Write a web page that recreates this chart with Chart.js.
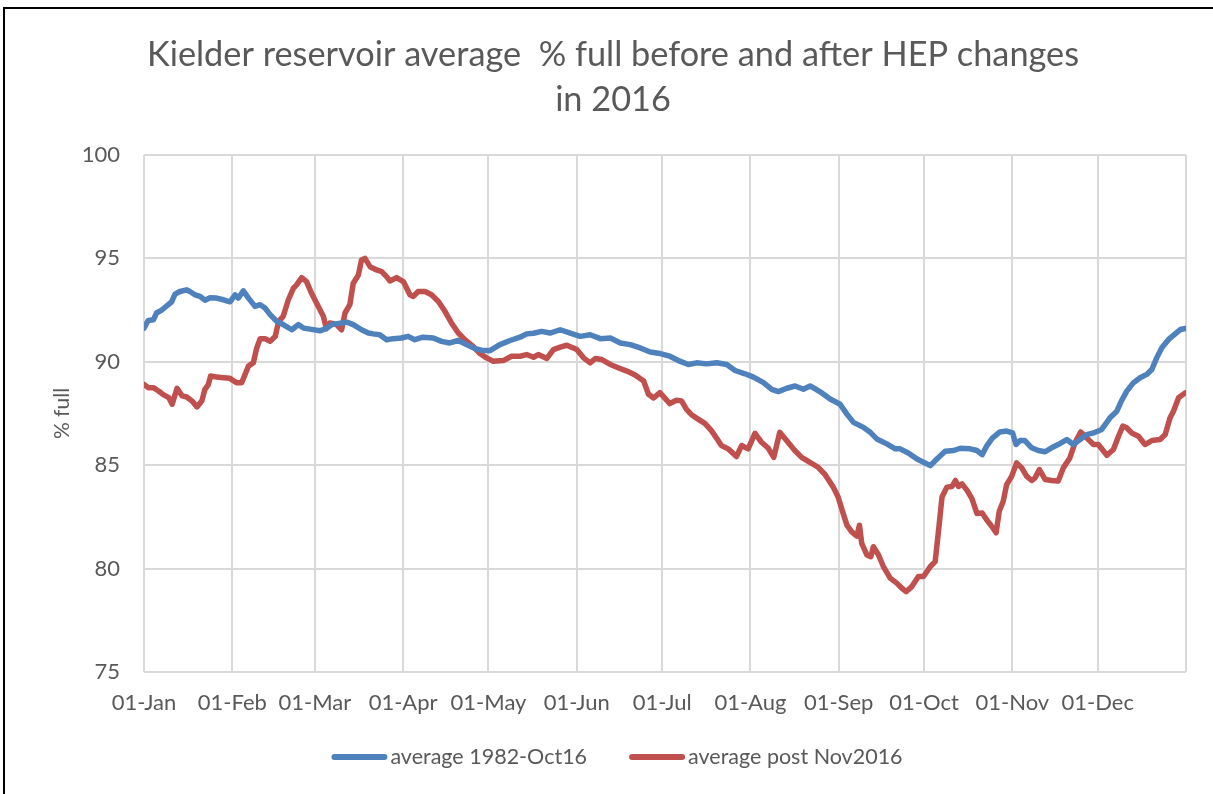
<!DOCTYPE html>
<html>
<head>
<meta charset="utf-8">
<script src="https://cdn.jsdelivr.net/npm/chart.js@4.4.1/dist/chart.umd.min.js"></script>
<style>
  html, body { margin: 0; padding: 0; background: #fff; }
  #wrap { position: relative; width: 1213px; height: 794px; overflow: hidden; }
  #frame { position: absolute; left: 3px; top: 7px; width: 1300px; height: 900px;
           border-left: 2px solid #000; border-top: 2px solid #000; pointer-events: none; }
  canvas { position: absolute; left: 0; top: 0; }
</style>
</head>
<body>
<div id="wrap">
  <canvas id="chart" width="1213" height="794"></canvas>
  <div id="frame"></div>
</div>
<script>
// Kielder reservoir % full, 2016 (day 0 = 01-Jan)
const monthStarts = [0, 31, 60, 91, 121, 152, 182, 213, 244, 274, 305, 335];
const monthLabels = ['01-Jan', '01-Feb', '01-Mar', '01-Apr', '01-May', '01-Jun',
                     '01-Jul', '01-Aug', '01-Sep', '01-Oct', '01-Nov', '01-Dec'];
const yearEnd = 366;

const seriesNames = ['average 1982-Oct16', 'average post Nov2016'];

const blueDays = [0, 1.5, 3.3, 4.4, 6.2, 8, 9.7, 10.9, 12.6, 15, 16.1, 17.9, 19.7, 21.4, 23.2, 25.5, 27.9, 30.2,
  32, 33.1, 34.9, 36.7, 39, 40.8, 42.5, 44.3, 46.6, 48.9, 51.9, 54.2, 56, 58.3, 61.8, 63.9, 66.1, 71.2, 73.5,
  76.4, 78.8, 80.5, 82.8, 85.2, 87.5, 90.4, 92.8, 95.1, 98, 101.6, 104.5, 107.4, 110.4, 113.3, 116.2, 118.6,
  121.5, 125, 128.6, 132.1, 134.4, 136.8, 139.7, 142.6, 146.2, 149.7, 153.2, 156.7, 160.3, 163.8, 167.3, 170.8,
  174.3, 177.8, 181.3, 184.7, 188.2, 191.2, 194.1, 197.6, 201.2, 204.7, 207.6, 211.1, 214.1, 217.6, 220.5,
  222.8, 225.8, 228.7, 231.6, 234, 237.5, 241, 244.5, 246.9, 249.2, 252.7, 255.1, 257.4, 260.9, 263.9, 265.6,
  268.6, 271.5, 273.8, 276.2, 278.5, 281.4, 284.4, 286.7, 290.2, 292.6, 294.4, 296.1, 297.9, 300.6, 303, 305.1,
  306.3, 307.7, 309.4, 311.8, 314.1, 316.5, 318.8, 321.1, 324.1, 326.4, 328.8, 331.1, 333.5, 336.4, 339.3,
  341.7, 343.4, 345.2, 347.5, 349.9, 352.2, 354, 355.7, 357.5, 359.9, 362.2, 364, 365.7];
const blueValues = [91.63, 92.0, 92.03, 92.36, 92.5, 92.7, 92.9, 93.27, 93.4, 93.48, 93.4, 93.24, 93.16, 92.98,
  93.1, 93.08, 93.0, 92.9, 93.24, 93.08, 93.43, 93.08, 92.68, 92.76, 92.6, 92.28, 91.96, 91.8, 91.55, 91.8,
  91.63, 91.58, 91.5, 91.6, 91.8, 91.92, 91.8, 91.55, 91.39, 91.35, 91.31, 91.07, 91.12, 91.15, 91.23, 91.07,
  91.19, 91.15, 90.99, 90.91, 91.03, 90.83, 90.64, 90.56, 90.54, 90.83, 91.03, 91.19, 91.35, 91.38, 91.47,
  91.39, 91.55, 91.39, 91.23, 91.31, 91.12, 91.15, 90.91, 90.83, 90.67, 90.47, 90.4, 90.27, 90.03, 89.87,
  89.95, 89.9, 89.95, 89.87, 89.58, 89.42, 89.26, 88.99, 88.67, 88.56, 88.72, 88.83, 88.67, 88.83, 88.55,
  88.2, 87.95, 87.47, 87.07, 86.83, 86.59, 86.27, 86.03, 85.79, 85.79, 85.58, 85.3, 85.14, 84.98, 85.3, 85.67,
  85.71, 85.82, 85.79, 85.71, 85.51, 85.95, 86.3, 86.61, 86.65, 86.56, 86.0, 86.19, 86.19, 85.84, 85.71, 85.65,
  85.84, 86.0, 86.24, 86.0, 86.24, 86.48, 86.56, 86.73, 87.29, 87.61, 88.13, 88.58, 88.98, 89.23, 89.39,
  89.63, 90.19, 90.68, 91.08, 91.35, 91.56, 91.61];

const redDays = [0, 1.5, 3.3, 5.1, 6.9, 8.7, 9.9, 11.6, 13.4, 15, 16.9, 18.6, 20.3, 21.4, 22.6, 23.4, 25.5, 27.9,
  30.2, 32.5, 34.3, 35.5, 36.7, 38.4, 39.6, 40.8, 42.5, 44.3, 46.1, 47.3, 48.9, 50.7, 52.5, 53.6, 55.4, 57.1,
  58.9, 60.6, 63, 64.1, 65.3, 67.6, 69.4, 70.6, 72.3, 73.5, 75.3, 76.4, 77.6, 79.4, 81.7, 83.5, 85.2, 86.4,
  88.7, 91.1, 93.4, 94.6, 96.3, 98.7, 101, 103.4, 105.7, 108, 110.4, 112.7, 115.6, 118, 120.3, 122.7, 126.2,
  129.1, 132.1, 134.4, 136.8, 138.5, 141.5, 143.8, 146.2, 148.5, 152, 154.4, 156.7, 158.5, 160.8, 163.8, 166.1,
  169.6, 172.5, 175.5, 177.2, 179, 181.2, 184.7, 187, 188.8, 190.5, 192.3, 194.6, 197, 199.3, 201.1, 202.8,
  205.2, 208.1, 209.9, 212.2, 214.6, 216.9, 219.2, 221.2, 223.3, 225.7, 228.6, 231, 233.9, 236.8, 239.2, 242.1,
  243.8, 245.6, 246.9, 248.6, 250.4, 251.3, 252.1, 253.9, 255.3, 256.2, 258, 259.7, 262.1, 264.4, 266.2, 267.7,
  269.7, 272, 273.8, 276.2, 277.9, 279.1, 280.3, 282, 283.8, 285, 286.1, 287.3, 289.1, 290.8, 292.6, 294.4,
  296.1, 297.9, 299.3, 300.4, 301.8, 303, 304.8, 306.5, 308.3, 310, 311.8, 313, 314.5, 316.5, 318.8, 321.1,
  322.9, 325.2, 327, 329, 331.1, 333.5, 335.2, 338.2, 340.5, 342.3, 343.8, 345.2, 346.9, 349.3, 351.6, 354,
  356.9, 358.7, 360.4, 361.6, 363.4, 365.7];
const redValues = [88.91, 88.75, 88.75, 88.59, 88.4, 88.27, 87.95, 88.72, 88.35, 88.3, 88.1, 87.82, 88.1, 88.67,
  88.9, 89.31, 89.26, 89.23, 89.2, 88.99, 88.99, 89.39, 89.79, 89.95, 90.67, 91.12, 91.12, 90.99, 91.23, 91.96,
  92.2, 93.0, 93.56, 93.72, 94.07, 93.88, 93.3, 92.84, 92.2, 91.6, 91.88, 91.8, 91.55, 92.36, 92.76, 93.8,
  94.2, 94.92, 95.0, 94.6, 94.44, 94.36, 94.12, 93.91, 94.07, 93.88, 93.24, 93.16, 93.4, 93.4, 93.24, 92.92,
  92.44, 91.88, 91.39, 91.07, 90.75, 90.4, 90.19, 90.03, 90.06, 90.27, 90.27, 90.35, 90.22, 90.35, 90.16,
  90.59, 90.71, 90.8, 90.59, 90.19, 89.95, 90.16, 90.11, 89.87, 89.74, 89.55, 89.36, 89.07, 88.43, 88.25,
  88.51, 87.98, 88.14, 88.11, 87.71, 87.44, 87.23, 87.02, 86.67, 86.31, 85.95, 85.79, 85.42, 85.95, 85.79,
  86.54, 86.11, 85.83, 85.38, 86.59, 86.19, 85.71, 85.38, 85.14, 84.9, 84.55, 83.94, 83.46, 82.66, 82.1, 81.78,
  81.57, 82.1, 81.22, 80.66, 80.58, 81.06, 80.66, 80.1, 79.54, 79.3, 79.05, 78.89, 79.13, 79.62, 79.62, 80.1,
  80.34, 81.86, 83.46, 83.94, 83.97, 84.26, 83.97, 84.1, 83.78, 83.38, 82.66, 82.69, 82.34, 82.02, 81.73,
  82.77, 83.26, 84.06, 84.47, 85.11, 84.87, 84.47, 84.26, 84.39, 84.79, 84.31, 84.26, 84.23, 84.87, 85.35,
  86.08, 86.61, 86.32, 86.0, 86.0, 85.48, 85.76, 86.4, 86.89, 86.81, 86.56, 86.4, 86.0, 86.19, 86.24, 86.48,
  87.29, 87.61, 88.26, 88.5];

const blueColor = '#4F81BD';
const redColor = '#C0504D';
const textColor = '#595959';
const gridColor = '#d9d9d9';
const fontFamily = 'Lato, "Open Sans", sans-serif';

function toPoints(days, values) {
    return days.map((d, i) => ({ x: d, y: values[i] }));
}

function lineDataset(label, days, values, color) {
    return {
        label: label,
        data: toPoints(days, values),
        borderColor: color,
        backgroundColor: color,
        borderWidth: 5.5,
        pointRadius: 0,
        tension: 0,
        borderJoinStyle: 'round',
        borderCapStyle: 'round'
    };
}

// 범례: 선 샘플과 글자 사이가 좁은 엑셀식 범례를 직접 그림
const bottomLegend = {
    id: 'bottomLegend',
    afterDraw(chart) {
        const c = chart.ctx;
        const y = 757;
        const lineLen = 56, textGap = 3, itemGap = 42;
        c.save();
        c.font = '21.5px ' + fontFamily;
        c.textBaseline = 'middle';
        const items = chart.data.datasets.map(ds => ({
            text: ds.label, color: ds.borderColor, w: c.measureText(ds.label).width
        }));
        const total = items.reduce((s, it) => s + lineLen + textGap + it.w, 0) + itemGap * (items.length - 1);
        let x = 617 - total / 2;
        items.forEach(it => {
            c.strokeStyle = it.color;
            c.lineWidth = 6;
            c.lineCap = 'round';
            c.beginPath();
            c.moveTo(x + 3, y);
            c.lineTo(x + lineLen - 3, y);
            c.stroke();
            c.fillStyle = textColor;
            c.fillText(it.text, x + lineLen + textGap, y);
            x += lineLen + textGap + it.w + itemGap;
        });
        c.restore();
    }
};

const ctx = document.getElementById('chart').getContext('2d');

new Chart(ctx, {
    type: 'line',
    data: {
        datasets: [
            lineDataset(seriesNames[0], blueDays, blueValues, blueColor),
            lineDataset(seriesNames[1], redDays, redValues, redColor)
        ]
    },
    plugins: [bottomLegend],
    options: {
        responsive: false,
        animation: false,
        layout: { padding: { left: 40, right: 27, top: 30, bottom: 74 } },
        plugins: {
            title: {
                display: true,
                text: ['Kielder reservoir average  % full before and after HEP changes', 'in 2016'],
                color: textColor,
                font: { family: fontFamily, size: 34.3, weight: '400', lineHeight: 45 / 34.3 },
                padding: { top: 2, bottom: 33 }
            },
            legend: { display: false },
            tooltip: { enabled: false }
        },
        scales: {
            x: {
                type: 'linear',
                min: 0,
                max: yearEnd,
                afterBuildTicks: function(scale) {
                    scale.ticks = monthStarts.concat([yearEnd]).map(v => ({ value: v }));
                },
                afterFit: function(scale) {
                    scale.height = 48;
                },
                ticks: {
                    autoSkip: false,
                    maxRotation: 0,
                    padding: 18,
                    color: textColor,
                    font: { family: fontFamily, size: 22 },
                    callback: function(value) {
                        const i = monthStarts.indexOf(value);
                        return i >= 0 ? monthLabels[i] : '';
                    }
                },
                grid: { color: gridColor, lineWidth: 2, drawTicks: false },
                border: { display: false }
            },
            y: {
                min: 75,
                max: 100,
                afterFit: function(scale) {
                    scale.width = 104;
                },
                ticks: {
                    stepSize: 5,
                    padding: 24,
                    color: textColor,
                    font: { family: fontFamily, size: 22 }
                },
                title: {
                    display: true,
                    text: '% full',
                    color: textColor,
                    font: { family: fontFamily, size: 21 },
                    padding: { top: 10, bottom: 0 }
                },
                grid: { color: gridColor, lineWidth: 2, drawTicks: false },
                border: { display: false }
            }
        }
    }
});
</script>
</body>
</html>
